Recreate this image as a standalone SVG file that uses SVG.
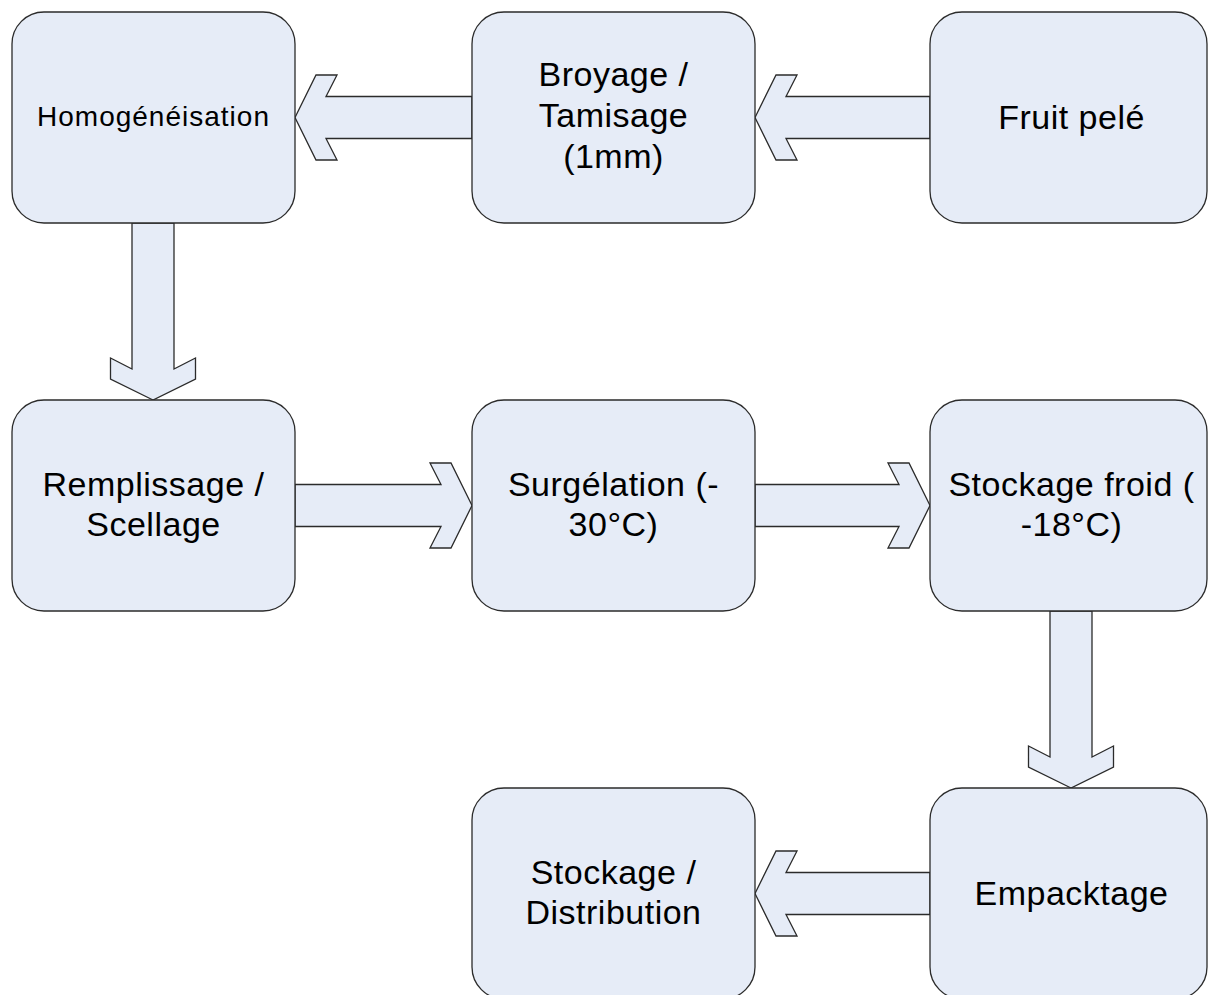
<svg xmlns="http://www.w3.org/2000/svg" width="1208" height="995" viewBox="0 0 1208 995">
<style>
.box{fill:#E6ECF7;stroke:#2b2b2b;stroke-width:1.3}
.arr{fill:#E6ECF7;stroke:#2b2b2b;stroke-width:1.3;stroke-linejoin:miter}
text{font-family:"Liberation Sans",Arial,sans-serif;font-size:34px;fill:#000;text-anchor:middle;letter-spacing:0.5px}
.small{font-size:28px;letter-spacing:1px}
</style>
<rect width="1208" height="995" fill="#fff"/>
<g id="connectors">
<path class="arr" d="M295,117.5 L316,75 L337,75 L326,96.5 L472,96.5 L472,138.5 L326,138.5 L337,160 L316,160 Z"/>
<path class="arr" d="M755,117.5 L776,75 L797,75 L786,96.5 L930,96.5 L930,138.5 L786,138.5 L797,160 L776,160 Z"/>
<path class="arr" d="M153,400 L110.5,379 L110.5,358 L132,369 L132,223 L174,223 L174,369 L195.5,358 L195.5,379 Z"/>
<path class="arr" d="M472,505.5 L451,463 L430,463 L441,484.5 L295,484.5 L295,526.5 L441,526.5 L430,548 L451,548 Z"/>
<path class="arr" d="M930,505.5 L909,463 L888,463 L899,484.5 L755,484.5 L755,526.5 L899,526.5 L888,548 L909,548 Z"/>
<path class="arr" d="M1071,788 L1028.5,767 L1028.5,746 L1050,757 L1050,611 L1092,611 L1092,757 L1113.5,746 L1113.5,767 Z"/>
<path class="arr" d="M755,893.5 L776,851 L797,851 L786,872.5 L930,872.5 L930,914.5 L786,914.5 L797,936 L776,936 Z"/>
</g>
<g id="n-homogeneisation">
<rect class="box" x="12" y="12" width="283" height="211" rx="32" ry="32"/>
<text class="small" x="153.5" y="126">Homogénéisation</text>
</g>
<g id="n-broyage">
<rect class="box" x="472" y="12" width="283" height="211" rx="32" ry="32"/>
<text x="613.5" y="86">Broyage /</text>
<text x="613.5" y="127">Tamisage</text>
<text x="613.5" y="168">(1mm)</text>
</g>
<g id="n-fruit">
<rect class="box" x="930" y="12" width="277" height="211" rx="32" ry="32"/>
<text x="1071.5" y="129">Fruit pelé</text>
</g>
<g id="n-remplissage">
<rect class="box" x="12" y="400" width="283" height="211" rx="32" ry="32"/>
<text x="153.5" y="496">Remplissage /</text>
<text x="153.5" y="536">Scellage</text>
</g>
<g id="n-surgelation">
<rect class="box" x="472" y="400" width="283" height="211" rx="32" ry="32"/>
<text x="613.5" y="496">Surgélation (-</text>
<text x="613.5" y="536">30°C)</text>
</g>
<g id="n-stockage-froid">
<rect class="box" x="930" y="400" width="277" height="211" rx="32" ry="32"/>
<text x="1071.5" y="496">Stockage froid (</text>
<text x="1071.5" y="536">-18°C)</text>
</g>
<g id="n-stockage-distribution">
<rect class="box" x="472" y="788" width="283" height="211" rx="32" ry="32"/>
<text x="613.5" y="884">Stockage /</text>
<text x="613.5" y="924">Distribution</text>
</g>
<g id="n-empacktage">
<rect class="box" x="930" y="788" width="277" height="211" rx="32" ry="32"/>
<text x="1071.5" y="905">Empacktage</text>
</g>
</svg>
